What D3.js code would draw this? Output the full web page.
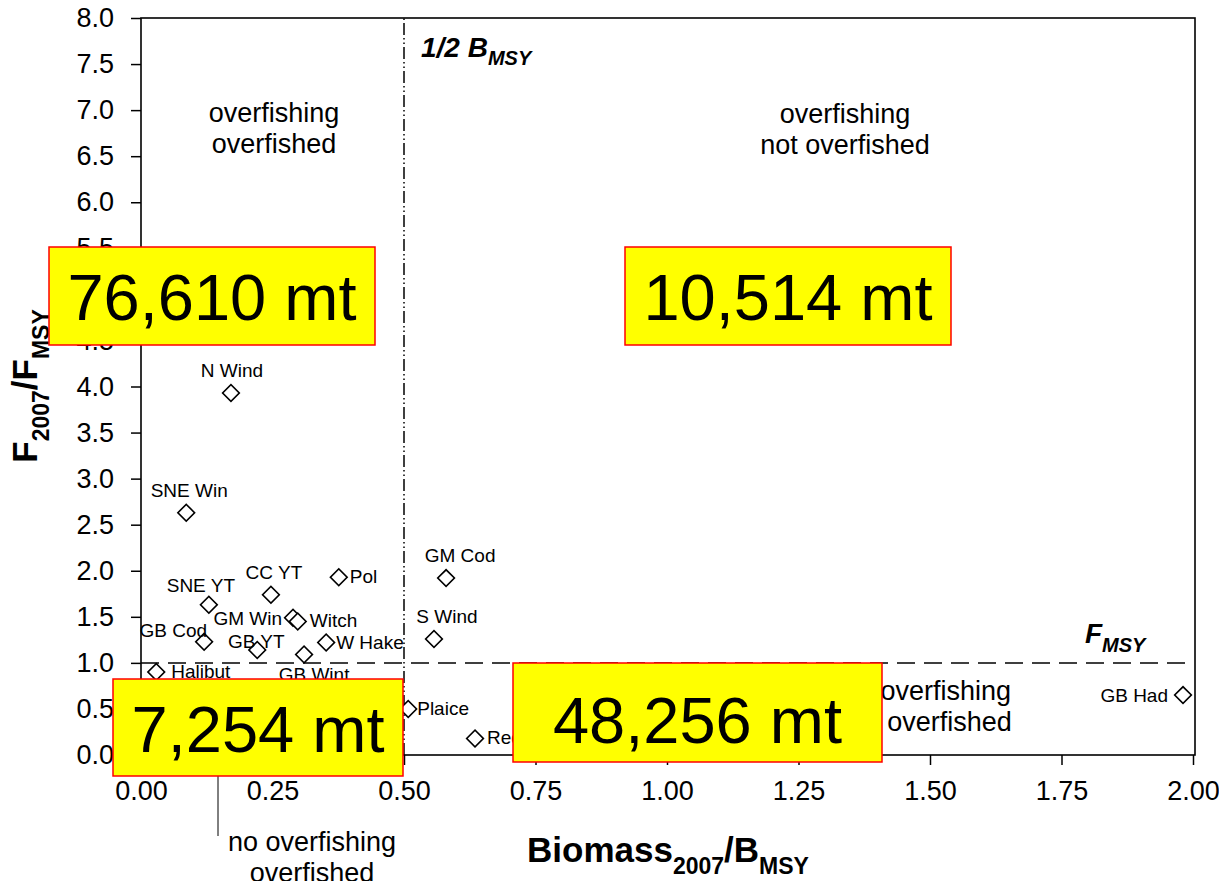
<!DOCTYPE html>
<html lang="en">
<head>
    <script src="https://d3js.org/d3.v7.min.js"></script>
    <style>
        body {
            margin: 0;
            background: white;
            font-family: 'Liberation Sans', Arial, sans-serif;
        }
        .axis text {
            font-size: 27px;
            fill: #000;
        }
        .axis line {
            stroke: #000;
            stroke-width: 1.5px;
        }
        .stock-label {
            font-size: 19px;
            fill: #000;
        }
        .quad-label {
            font-size: 27px;
            text-anchor: middle;
            fill: #000;
        }
        .ref-label {
            font-weight: bold;
            font-style: italic;
            font-size: 28px;
        }
        .axis-title {
            font-weight: bold;
            font-size: 35px;
            text-anchor: middle;
        }
        .catch-box rect {
            fill: #ffff00;
            stroke: #ff0000;
            stroke-width: 1.5px;
        }
        .catch-box text {
            font-size: 65px;
            text-anchor: middle;
        }
    </style>
</head>
<body>
<script>
    // stock status 2007
    var stockNames = ["N Wind", "SNE Win", "GM Cod", "Pol", "CC YT", "SNE YT", "GM Win", "Witch",
        "GB Cod", "GB YT", "W Hake", "GB Wint", "S Wind", "Halibut", "Plaice", "Redfish", "GB Had"];
    var biomassRatio = [0.171, 0.086, 0.580, 0.376, 0.247, 0.129, 0.289, 0.298,
        0.120, 0.221, 0.352, 0.310, 0.557, 0.029, 0.508, 0.635, 1.981];
    var fRatio = [3.93, 2.63, 1.92, 1.93, 1.74, 1.63, 1.49, 1.45,
        1.23, 1.14, 1.22, 1.09, 1.26, 0.90, 0.50, 0.18, 0.65];

    var xTicks = [0, 0.25, 0.5, 0.75, 1.0, 1.25, 1.5, 1.75, 2.0];
    var yTicks = d3.range(0, 8.01, 0.5);

    var halfBmsy = 0.5;
    var fmsy = 1.0;

    // catch totals per quadrant
    var catchLabels = ["76,610 mt", "10,514 mt", "7,254 mt", "48,256 mt"];

    var width = 1219;
    var height = 881;

    // label placement next to each diamond (anchor, dx, dy)
    var labelPos = {
        "N Wind": ["middle", 1, -16],
        "SNE Win": ["middle", 3, -16],
        "GM Cod": ["middle", 14, -16],
        "Pol": ["start", 11, 6],
        "CC YT": ["middle", 3, -16],
        "SNE YT": ["middle", -8, -13],
        "GM Win": ["end", -11, 7],
        "Witch": ["start", 12, 6],
        "GB Cod": ["end", 3, -5],
        "GB YT": ["middle", -1, -2],
        "W Hake": ["start", 10, 6],
        "GB Wint": ["middle", 10, 26],
        "S Wind": ["middle", 13, -16],
        "Halibut": ["start", 15, 6],
        "Plaice": ["start", 9, 6],
        "Redfish": ["start", 12, 6],
        "GB Had": ["end", -15, 7]
    };

    var svg = d3.select("body").append("svg")
        .attr("width", width)
        .attr("height", height);

    var x = d3.scaleLinear().domain([0, 2]).range([141, 1193]);
    var y = d3.scaleLinear().domain([0, 8]).range([755, 18]);

    // axes
    svg.append("g")
        .attr("class", "axis")
        .attr("transform", "translate(0," + y(0) + ")")
        .call(d3.axisBottom(x).tickValues(xTicks).tickFormat(d3.format(".2f")).tickSize(10).tickPadding(16))
        .call(g => g.select(".domain").remove());

    svg.append("g")
        .attr("class", "axis")
        .attr("transform", "translate(" + x(0) + ",0)")
        .call(d3.axisLeft(y).tickValues(yTicks).tickFormat(d3.format(".1f")).tickSize(10).tickPadding(17))
        .call(g => g.select(".domain").remove());

    // plot frame
    svg.append("rect")
        .attr("x", x(0))
        .attr("y", y(8))
        .attr("width", x(2) + 2 - x(0))
        .attr("height", y(0) - y(8))
        .attr("fill", "none")
        .attr("stroke", "#000")
        .attr("stroke-width", 1.6);

    // reference lines
    var line = d3.line().x(d => x(d[0])).y(d => y(d[1]));
    svg.append("path")
        .attr("d", line([[halfBmsy, 0], [halfBmsy, 8]]))
        .attr("stroke", "#000")
        .attr("stroke-width", 1.5)
        .attr("stroke-dasharray", "12,3,1.5,3,1.5,3")
        .attr("fill", "none");
    svg.append("path")
        .attr("d", line([[0, fmsy], [2, fmsy]]))
        .attr("stroke", "#000")
        .attr("stroke-width", 1.5)
        .attr("stroke-dasharray", "18,9")
        .attr("fill", "none");

    // reference line labels
    var bl = svg.append("text").attr("class", "ref-label").attr("x", 421).attr("y", 57);
    bl.append("tspan").text("1/2 B");
    bl.append("tspan").attr("font-size", 20).attr("dy", 8).text("MSY");

    var fl = svg.append("text").attr("class", "ref-label").attr("x", 1085).attr("y", 643);
    fl.append("tspan").text("F");
    fl.append("tspan").attr("font-size", 20).attr("dy", 9).text("MSY");

    // quadrant labels
    function quad(lines, cx, y0) {
        var t = svg.append("text").attr("class", "quad-label");
        lines.forEach(function(s, i) {
            t.append("tspan").attr("x", cx).attr("y", y0 + i * 31).text(s);
        });
    }
    quad(["overfishing", "overfished"], 274, 122);
    quad(["overfishing", "not overfished"], 845, 123);
    quad(["no overfishing", "not overfished"], 927, 700);
    quad(["no overfishing", "overfished"], 312, 851);

    // leader line for the bottom-left label
    svg.append("line")
        .attr("x1", 218).attr("x2", 218)
        .attr("y1", 762).attr("y2", 836)
        .attr("stroke", "#000")
        .attr("stroke-width", 1);

    // stock points
    var diamond = d3.symbol().type(d3.symbolSquare).size(140);
    var pts = svg.append("g");
    stockNames.forEach(function(name, i) {
        var px = x(biomassRatio[i]), py = y(fRatio[i]);
        pts.append("path")
            .attr("d", diamond)
            .attr("transform", "translate(" + px + "," + py + ") rotate(45)")
            .attr("fill", "white")
            .attr("stroke", "#000")
            .attr("stroke-width", 1.6);
        var p = labelPos[name];
        pts.append("text")
            .attr("class", "stock-label")
            .attr("x", px + p[1])
            .attr("y", py + p[2])
            .attr("text-anchor", p[0])
            .text(name);
    });

    // axis titles
    var xt = svg.append("text").attr("class", "axis-title").attr("x", 668).attr("y", 862);
    xt.append("tspan").text("Biomass");
    xt.append("tspan").attr("font-size", 23).attr("dy", 12).text("2007");
    xt.append("tspan").attr("dy", -12).text("/B");
    xt.append("tspan").attr("font-size", 23).attr("dy", 12).text("MSY");

    var yt = svg.append("text").attr("class", "axis-title")
        .attr("transform", "translate(37,386) rotate(-90)");
    yt.append("tspan").text("F");
    yt.append("tspan").attr("font-size", 23).attr("dy", 12).text("2007");
    yt.append("tspan").attr("dy", -12).text("/F");
    yt.append("tspan").attr("font-size", 23).attr("dy", 12).text("MSY");

    // catch boxes on top
    var boxes = [
        [49, 247, 326, 98, 320],
        [625, 247, 326, 98, 320],
        [113, 679, 290, 97, 752],
        [513, 663, 369, 99, 743]
    ];
    catchLabels.forEach(function(lbl, i) {
        var b = boxes[i];
        var g = svg.append("g").attr("class", "catch-box");
        g.append("rect").attr("x", b[0]).attr("y", b[1]).attr("width", b[2]).attr("height", b[3]);
        g.append("text").attr("x", b[0] + b[2] / 2).attr("y", b[4]).text(lbl);
    });
</script>
</body>
</html>
